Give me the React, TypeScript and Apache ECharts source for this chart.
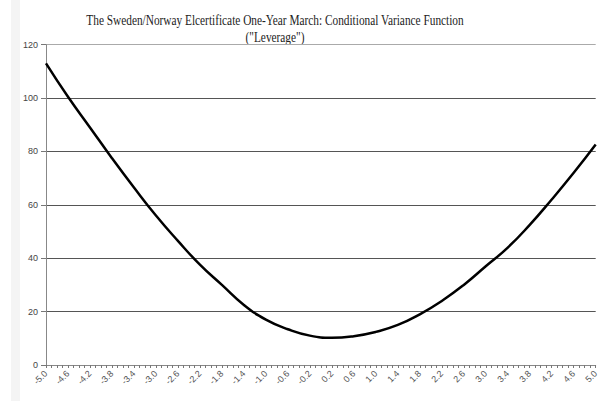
import React, { useEffect, useRef } from "react";
import * as echarts from "echarts";

const TITLE = 'The Sweden/Norway Elcertificate One-Year March: Conditional Variance Function\n("Leverage")';
const xValues = [-5.0, -4.6, -4.2, -3.8, -3.4, -3.0, -2.6, -2.2, -1.8, -1.4, -1.0, -0.6, -0.2, 0.2, 0.6, 1.0, 1.4, 1.8, 2.2, 2.6, 3.0, 3.4, 3.8, 4.2, 4.6, 5.0];
const varianceValues = [113, 100.5, 89, 77.5, 66.5, 56, 46.5, 37.6, 30, 22.5, 17, 13.4, 11, 10.2, 10.8, 12.4, 15, 19, 24, 30, 37, 44, 52.5, 62, 72, 82.6];
const yTicks = [0, 20, 40, 60, 80, 100, 120];

export default function App() {
  const ref = useRef<HTMLDivElement>(null);
  useEffect(() => {
    if (!ref.current) return;
    const chart = echarts.init(ref.current, undefined, { renderer: "svg" });
    const data = xValues.map((x, i) => [x, varianceValues[i]]);
    chart.setOption({
      animation: false,
      backgroundColor: "#ffffff",
      graphic: [
        { type: "rect", shape: { x: 11, y: 0, width: 9, height: 401 }, style: { fill: "#f4f4f4" }, z: -1 },
        {
          type: "text",
          x: 275,
          y: 11.5,
          scaleX: 0.755,
          style: {
            text: TITLE,
            textAlign: "center",
            fontFamily: "Liberation Serif",
            fontSize: 15,
            lineHeight: 17,
            fill: "#222",
          },
        },
      ],
      grid: { left: 46, right: 3, top: 44.7, bottom: 36, containLabel: false },
      xAxis: {
        type: "value",
        min: -5,
        max: 5,
        interval: 0.1,
        splitLine: { show: false },
        axisLine: { show: true, onZero: false, lineStyle: { color: "#888", width: 1 } },
        axisTick: { show: true, inside: false, length: 3, lineStyle: { color: "#777" } },
        axisLabel: {
          rotate: 45,
          fontSize: 9,
          fontFamily: "Liberation Sans",
          color: "#555",
          margin: 7,
          showMinLabel: true,
          showMaxLabel: true,
          formatter: (v: number) => {
            const k = Math.round((v + 5) * 10);
            return k % 4 === 0 ? v.toFixed(1) : "";
          },
        },
      },
      yAxis: {
        type: "value",
        min: yTicks[0],
        max: yTicks[yTicks.length - 1],
        interval: 20,
        splitLine: { show: true, lineStyle: { color: ["#555", "#555", "#555", "#555", "#555", "#555", "#aaa"], width: 1 } },
        axisLine: { show: true, onZero: false, lineStyle: { color: "#888", width: 1 } },
        axisTick: { show: true, length: 5, lineStyle: { color: "#777" } },
        axisLabel: { fontSize: 9, fontFamily: "Liberation Sans", color: "#444", margin: 8 },
      },
      series: [
        {
          type: "line",
          data,
          smooth: true,
          showSymbol: false,
          lineStyle: { color: "#000", width: 2.5 },
        },
      ],
    });
    return () => chart.dispose();
  }, []);
  return <div ref={ref} style={{ position: "absolute", left: 0, top: 0, width: 601, height: 401 }} />;
}
